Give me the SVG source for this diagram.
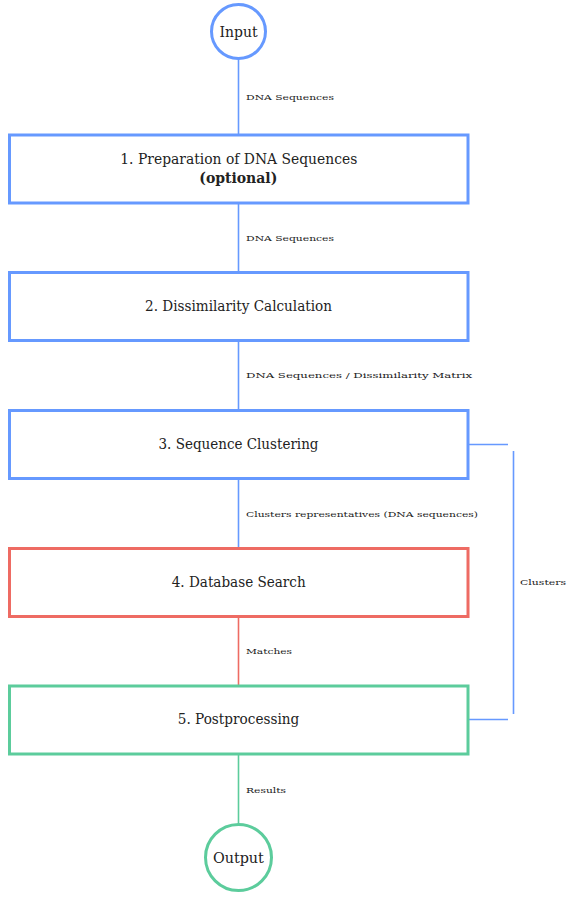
<svg xmlns="http://www.w3.org/2000/svg" width="574" height="900" viewBox="0 0 574 900">
<style>
.bg{fill:#ffffff}
.box{fill:#ffffff;stroke-width:3}
.blue{stroke:#6699ff}
.red{stroke:#ee6b63}
.green{stroke:#5ccc9c}
.ln{fill:none;stroke-width:1.6}
.t{font-family:"DejaVu Serif","Liberation Serif",serif;font-size:14px;fill:#222;text-anchor:middle}
.b{font-weight:bold}
.lbl{font-family:"DejaVu Serif","Liberation Serif",serif;font-size:8px;fill:#222}
</style>
<rect class="bg" x="0" y="0" width="574" height="900"/>
<g id="connectors">
<line class="ln blue" x1="238.5" y1="59" x2="238.5" y2="135"/>
<line class="ln blue" x1="238.5" y1="203" x2="238.5" y2="272"/>
<line class="ln blue" x1="238.5" y1="341" x2="238.5" y2="410"/>
<line class="ln blue" x1="238.5" y1="479" x2="238.5" y2="548"/>
<line class="ln red" x1="238.5" y1="617" x2="238.5" y2="686"/>
<line class="ln green" x1="238.5" y1="754" x2="238.5" y2="824"/>
<line class="ln blue" x1="468" y1="444.5" x2="508" y2="444.5"/>
<line class="ln blue" x1="513.5" y1="451" x2="513.5" y2="714"/>
<line class="ln blue" x1="468" y1="719.5" x2="508" y2="719.5"/>
<text class="lbl" x="246" y="100" textLength="88" lengthAdjust="spacingAndGlyphs">DNA Sequences</text>
<text class="lbl" x="246" y="241" textLength="88" lengthAdjust="spacingAndGlyphs">DNA Sequences</text>
<text class="lbl" x="246" y="378" textLength="226" lengthAdjust="spacingAndGlyphs">DNA Sequences / Dissimilarity Matrix</text>
<text class="lbl" x="246" y="516.5" textLength="232" lengthAdjust="spacingAndGlyphs">Clusters representatives (DNA sequences)</text>
<text class="lbl" x="246" y="654" textLength="46" lengthAdjust="spacingAndGlyphs">Matches</text>
<text class="lbl" x="246" y="793" textLength="40" lengthAdjust="spacingAndGlyphs">Results</text>
<text class="lbl" x="520" y="585" textLength="46" lengthAdjust="spacingAndGlyphs">Clusters</text>
</g>
<g id="input">
<circle class="box blue" cx="238.5" cy="31.5" r="27"/>
<text class="t" x="238.5" y="36.5" textLength="38" lengthAdjust="spacingAndGlyphs">Input</text>
</g>
<g id="step1">
<rect class="box blue" x="9.5" y="135" width="458.5" height="68"/>
<text class="t" x="238.8" y="164" textLength="237" lengthAdjust="spacingAndGlyphs">1. Preparation of DNA Sequences</text>
<text class="t b" x="238.3" y="183" textLength="78" lengthAdjust="spacingAndGlyphs">(optional)</text>
</g>
<g id="step2">
<rect class="box blue" x="9.5" y="272.5" width="458.5" height="68"/>
<text class="t" x="238.5" y="310.7" textLength="187" lengthAdjust="spacingAndGlyphs">2. Dissimilarity Calculation</text>
</g>
<g id="step3">
<rect class="box blue" x="9.5" y="410.5" width="458.5" height="68"/>
<text class="t" x="238.5" y="448.7" textLength="160" lengthAdjust="spacingAndGlyphs">3. Sequence Clustering</text>
</g>
<g id="step4">
<rect class="box red" x="9.5" y="548.5" width="458.5" height="68"/>
<text class="t" x="238.7" y="587.3" textLength="134" lengthAdjust="spacingAndGlyphs">4. Database Search</text>
</g>
<g id="step5">
<rect class="box green" x="9.5" y="686" width="458.5" height="68"/>
<text class="t" x="238.5" y="723.5" textLength="121.5" lengthAdjust="spacingAndGlyphs">5. Postprocessing</text>
</g>
<g id="output">
<circle class="box green" cx="238.5" cy="857.5" r="33"/>
<text class="t" x="238.4" y="862.5" textLength="51" lengthAdjust="spacingAndGlyphs">Output</text>
</g>
</svg>
